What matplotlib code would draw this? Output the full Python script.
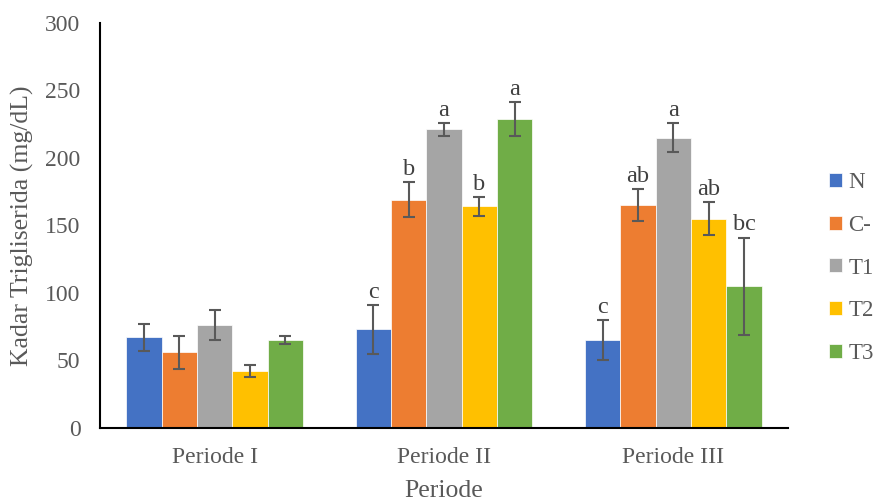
import matplotlib
matplotlib.use("Agg")
import matplotlib.pyplot as plt
import numpy as np

categories = ["Periode I", "Periode II", "Periode III"]
series = ["N", "C-", "T1", "T2", "T3"]
values = {
    "N":  [67, 73, 65],
    "C-": [56, 169, 165],
    "T1": [76, 221, 215],
    "T2": [42, 164, 155],
    "T3": [65, 229, 105],
}
errors = {
    "N":  [10, 18, 15],
    "C-": [12, 13, 12],
    "T1": [11, 5, 11],
    "T2": [4.5, 7, 12.5],
    "T3": [3, 12.5, 36],
}
letters = {
    "N":  ["", "c", "c"],
    "C-": ["", "b", "ab"],
    "T1": ["", "a", "a"],
    "T2": ["", "b", "ab"],
    "T3": ["", "a", "bc"],
}
colors = ["#4472C4", "#ED7D31", "#A5A5A5", "#FFC000", "#70AD47"]
yticks = [0, 50, 100, 150, 200, 250, 300]

plt.rcParams['font.family'] = ['Liberation Serif', 'DejaVu Serif']

fig = plt.figure(figsize=(8.75, 5.03), dpi=100)
ax = fig.add_axes([100/875, 1-428/503, (788-100)/875, (428-22.7)/503])

x = np.arange(len(categories))
w = 0.154
for i, s in enumerate(series):
    pos = x + (i - 2) * w
    ax.bar(pos, values[s], w, color=colors[i], edgecolor='white', linewidth=0.5,
           label=s, zorder=2)
    ax.errorbar(pos, values[s], yerr=errors[s], fmt='none', ecolor='#595959',
                elinewidth=1.5, capsize=4.5, capthick=1.5, zorder=3)
    for j in range(len(categories)):
        if letters[s][j]:
            ax.annotate(letters[s][j], (pos[j], values[s][j] + errors[s][j]),
                        xytext=(0, 1.5), textcoords='offset points',
                        ha='center', va='bottom', fontsize=17.5, color='#404040')

ax.set_xlim(-0.5, 2.5)
ax.set_ylim(0, 300)
ax.set_yticks(yticks)
ax.set_xticks(x)
ax.set_xticklabels(categories)
ax.tick_params(axis='both', length=0, labelsize=17, colors='#595959')
ax.tick_params(axis='x', pad=14)
ax.tick_params(axis='y', pad=14)
for sp in ['top', 'right']:
    ax.spines[sp].set_visible(False)
for sp in ['left', 'bottom']:
    ax.spines[sp].set_color('black')
    ax.spines[sp].set_linewidth(1.5)

ax.set_ylabel("Kadar Trigliserida (mg/dL)", fontsize=18.5, color='#595959', labelpad=8)
ax.set_xlabel("Periode", fontsize=18.5, color='#595959', labelpad=8)

leg = fig.legend(loc='center left', bbox_to_anchor=(829/875, 1-268/503), frameon=False,
                 fontsize=16.5, handlelength=0.55, handleheight=0.55, handletextpad=0.3,
                 labelspacing=0.95, borderaxespad=0, borderpad=0, labelcolor='#595959')

fig.savefig("out.png", dpi=100)
